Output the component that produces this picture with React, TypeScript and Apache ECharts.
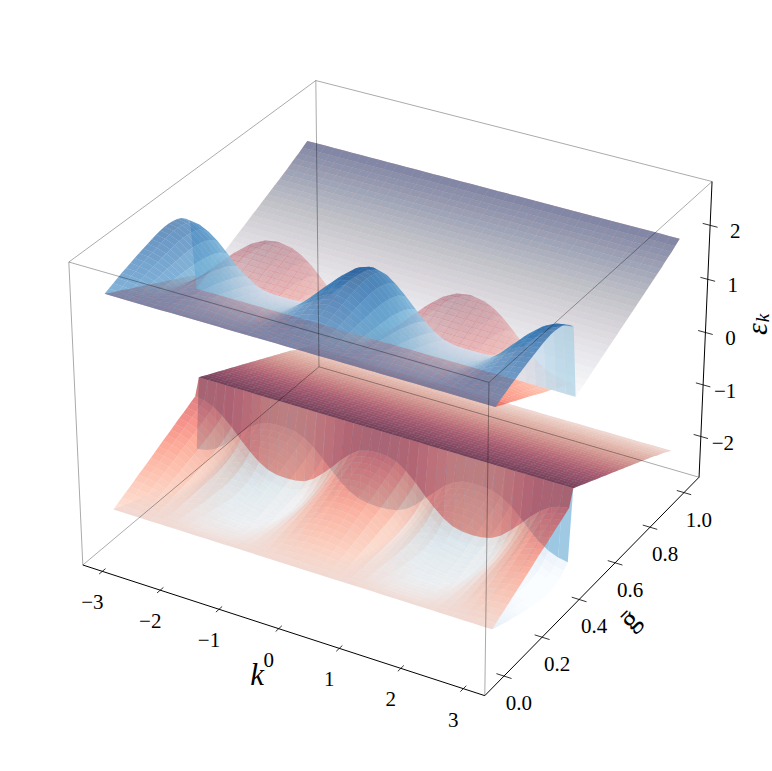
import React, { useEffect, useRef } from "react";
import * as echarts from "echarts";

// momentum samples along the k axis
const kSamples = [
  -3.142, -2.985, -2.827, -2.670, -2.513, -2.356, -2.199, -2.042, -1.885, -1.728, -1.571,
  -1.414, -1.257, -1.100, -0.942, -0.785, -0.628, -0.471, -0.314, -0.157, 0,
  0.157, 0.314, 0.471, 0.628, 0.785, 0.942, 1.100, 1.257, 1.414, 1.571,
  1.728, 1.885, 2.042, 2.199, 2.356, 2.513, 2.670, 2.827, 2.985, 3.142,
];
// coupling samples along the g axis
const gSamples = [
  0, 0.02, 0.04, 0.06, 0.08, 0.1, 0.12, 0.14, 0.16, 0.18, 0.2,
  0.22, 0.24, 0.26, 0.28, 0.3, 0.32, 0.34, 0.36, 0.38, 0.4,
  0.42, 0.44, 0.46, 0.48, 0.5, 0.52, 0.54, 0.56, 0.58, 0.6,
  0.62, 0.64, 0.66, 0.68, 0.7, 0.72, 0.74, 0.76, 0.78, 0.8,
  0.82, 0.84, 0.86, 0.88, 0.9, 0.92, 0.94, 0.96, 0.985,
];
// |energy| read along a band crest and along a band trough, for each g
const crestEnergy = [
  2.0, 2.035, 2.07, 2.105, 2.14, 2.17, 2.2, 2.23, 2.26, 2.285, 2.31,
  2.335, 2.36, 2.38, 2.39, 2.39, 2.38, 2.36, 2.32, 2.25, 2.16,
  0.84, 0.88, 0.92, 0.96, 1.0, 1.04, 1.08, 1.12, 1.16, 1.2,
  1.24, 1.28, 1.32, 1.36, 1.4, 1.44, 1.48, 1.52, 1.56, 1.6,
  1.64, 1.68, 1.72, 1.76, 1.81, 1.85, 1.89, 1.94, 2.0,
];
const troughEnergy = [
  2.0, 1.955, 1.91, 1.87, 1.83, 1.785, 1.74, 1.7, 1.66, 1.615, 1.57,
  1.525, 1.48, 1.44, 1.4, 1.355, 1.31, 1.27, 1.23, 1.185, 1.14,
  0.84, 0.88, 0.92, 0.96, 1.0, 1.04, 1.08, 1.12, 1.16, 1.2,
  1.24, 1.28, 1.32, 1.36, 1.4, 1.44, 1.48, 1.52, 1.56, 1.6,
  1.64, 1.68, 1.72, 1.76, 1.81, 1.85, 1.89, 1.94, 2.0,
];
// position between trough and crest for each k, upper pair of bands
const upperBlueWave = [
  1.0, 0.97, 0.89, 0.76, 0.59, 0.41, 0.27, 0.16, 0.1, 0.08, 0.08,
  0.08, 0.09, 0.13, 0.22, 0.36, 0.53, 0.71, 0.87, 1.0, 1.05,
  1.0, 0.87, 0.71, 0.53, 0.36, 0.22, 0.13, 0.09, 0.08, 0.08,
  0.08, 0.1, 0.16, 0.27, 0.41, 0.59, 0.76, 0.89, 0.97, 1.0,
];
const upperRedWave = [
  0.0, 0.02, 0.07, 0.15, 0.28, 0.45, 0.63, 0.8, 0.93, 1.01, 1.04,
  1.01, 0.93, 0.8, 0.63, 0.45, 0.28, 0.16, 0.09, 0.05, 0.03,
  0.05, 0.09, 0.16, 0.28, 0.45, 0.63, 0.8, 0.93, 1.01, 1.04,
  1.01, 0.93, 0.8, 0.63, 0.45, 0.28, 0.15, 0.07, 0.02, 0.0,
];
// the same, lower pair of bands
const lowerBlueWave = [
  1.0, 0.97, 0.9, 0.78, 0.62, 0.44, 0.28, 0.17, 0.1, 0.08, 0.08,
  0.1, 0.17, 0.29, 0.46, 0.63, 0.8, 0.93, 1.01, 1.04, 1.05,
  1.04, 1.01, 0.93, 0.8, 0.63, 0.46, 0.29, 0.17, 0.1, 0.08,
  0.08, 0.1, 0.17, 0.28, 0.44, 0.62, 0.78, 0.9, 0.97, 1.0,
];
const lowerRedWave = [
  0.0, 0.03, 0.1, 0.22, 0.38, 0.57, 0.74, 0.89, 0.99, 1.03, 1.04,
  1.03, 0.99, 0.89, 0.74, 0.57, 0.38, 0.22, 0.1, 0.05, 0.03,
  0.05, 0.1, 0.22, 0.38, 0.57, 0.74, 0.89, 0.99, 1.03, 1.04,
  1.03, 0.99, 0.89, 0.74, 0.57, 0.38, 0.22, 0.1, 0.03, 0.0,
];
const kTicks = [-3, -2, -1, 0, 1, 2, 3];
const gTicks = [0, 0.2, 0.4, 0.6, 0.8, 1.0];
const eTicks = [-2, -1, 0, 1, 2];

const bluesRamp = [
  [247, 251, 255], [222, 235, 247], [198, 219, 239], [158, 202, 225], [107, 174, 214],
  [66, 146, 198], [33, 113, 181], [8, 81, 156], [8, 48, 107],
];
const redsRamp = [
  [255, 245, 240], [254, 224, 210], [252, 187, 161], [252, 146, 114], [251, 106, 74],
  [239, 59, 44], [203, 24, 29], [165, 15, 21], [103, 0, 13],
];

const K_LIM = 3.34;
const G_CENTER = 0.496;
const G_HALF = 0.5945;
const E_LIM = 2.8;
const BOX_XY = 0.5715;
const BOX_Z = 0.4286;
const SCALE = 4030;
const CX = 396.4;
const CY = 373.9;
const UPPER_NORM = [0.85, 2.55];
const LOWER_NORM = [-2.3, -0.78];
const SERIF = '"Liberation Serif", serif';

function project(k: number, g: number, e: number): [number, number, number] {
  const x = (k / K_LIM) * BOX_XY;
  const y = ((g - G_CENTER) / G_HALF) * BOX_XY;
  const z = (e / E_LIM) * BOX_Z;
  const xv = 0.866025 * x + 0.5 * y;
  const yv = -0.25 * x + 0.433013 * y + 0.866025 * z;
  const d = 10 - (0.433013 * x - 0.75 * y + 0.5 * z);
  return [CX + (SCALE * xv) / d, CY - (SCALE * yv) / d, d];
}

function rampColor(ramp: number[][], t: number) {
  const c = Math.min(1, Math.max(0, t)) * (ramp.length - 1);
  const i = Math.min(ramp.length - 2, Math.floor(c));
  const f = c - i;
  const mix = (a: number, b: number) => Math.round(a + (b - a) * f);
  return `rgb(${mix(ramp[i][0], ramp[i + 1][0])},${mix(ramp[i][1], ramp[i + 1][1])},${mix(ramp[i][2], ramp[i + 1][2])})`;
}

function sheetSeries(wave: number[], ramp: number[][], sign: number, opacity: number) {
  const value = (i: number, j: number) =>
    sign * (troughEnergy[j] + (crestEnergy[j] - troughEnergy[j]) * wave[i]);
  const norm = sign > 0 ? UPPER_NORM : LOWER_NORM;
  const cells: any[] = [];
  for (let i = 0; i < kSamples.length - 1; i++) {
    for (let j = 0; j < gSamples.length - 1; j++) {
      const corners = [
        [i, j], [i + 1, j], [i + 1, j + 1], [i, j + 1],
      ].map(([a, b]) => project(kSamples[a], gSamples[b], value(a, b)));
      const mean =
        (value(i, j) + value(i + 1, j) + value(i + 1, j + 1) + value(i, j + 1)) / 4;
      cells.push({
        pts: corners.map((c) => [c[0], c[1]]),
        depth: corners.reduce((s, c) => s + c[2], 0) / 4,
        fill: rampColor(ramp, (mean - norm[0]) / (norm[1] - norm[0])),
      });
    }
  }
  cells.sort((a, b) => b.depth - a.depth);
  return {
    type: "custom",
    coordinateSystem: "none",
    silent: true,
    progressive: 0,
    clip: false,
    data: cells.map((_, idx) => [idx]),
    renderItem: (params: any) => {
      const cell = cells[params.dataIndex];
      return {
        type: "polygon",
        shape: { points: cell.pts },
        style: { fill: cell.fill, opacity },
      };
    },
  };
}

function line(a: number[], b: number[], stroke: string, width: number) {
  return {
    type: "line",
    z: 100,
    silent: true,
    shape: { x1: a[0], y1: a[1], x2: b[0], y2: b[1] },
    style: { stroke, lineWidth: width },
  };
}

function label(text: string, x: number, y: number, fontSize: number, extra: any = {}, rotation = 0) {
  return {
    type: "text",
    z: 101,
    silent: true,
    x,
    y,
    rotation,
    style: {
      text,
      x: 0,
      y: 0,
      align: "center",
      verticalAlign: "middle",
      fontFamily: SERIF,
      fontSize,
      fill: "#000",
      ...extra,
    },
  };
}

function buildGraphics() {
  const gLo = G_CENTER - G_HALF;
  const gHi = G_CENTER + G_HALF;
  const p = (k: number, g: number, e: number) => project(k, g, e);
  const LB = p(-K_LIM, gLo, -E_LIM);
  const BF = p(K_LIM, gLo, -E_LIM);
  const RB = p(K_LIM, gHi, -E_LIM);
  const BB = p(-K_LIM, gHi, -E_LIM);
  const TL = p(-K_LIM, gLo, E_LIM);
  const TF = p(K_LIM, gLo, E_LIM);
  const TR = p(K_LIM, gHi, E_LIM);
  const TB = p(-K_LIM, gHi, E_LIM);
  const grey = "rgba(0,0,0,0.42)";
  const out: any[] = [
    line(TL, TB, grey, 0.8), line(TB, TR, grey, 0.8), line(TR, TF, grey, 0.8), line(TF, TL, grey, 0.8),
    line(TL, LB, grey, 0.8), line(TB, BB, grey, 0.8), line(TF, BF, grey, 0.8),
    line(LB, BB, grey, 0.8), line(BB, RB, grey, 0.8),
    line(LB, BF, "#000", 1), line(BF, RB, "#000", 1), line(RB, TR, "#000", 1),
  ];
  const gTickSpan = 0.03;
  const kTickSpan = 0.12;
  kTicks.forEach((k) => {
    const a = p(k, gLo - gTickSpan / 2, -E_LIM);
    const b = p(k, gLo + gTickSpan / 2, -E_LIM);
    out.push(line(a, b, "#000", 0.8));
    const m = p(k, gLo, -E_LIM);
    out.push(label(k < 0 ? `\u2212${-k}` : `${k}`, m[0] - 10, m[1] + 31, 21));
  });
  gTicks.forEach((g) => {
    const a = p(K_LIM - kTickSpan, g, -E_LIM);
    const b = p(K_LIM + kTickSpan, g, -E_LIM);
    out.push(line(a, b, "#000", 0.8));
    const m = p(K_LIM, g, -E_LIM);
    out.push(label(g.toFixed(1), m[0] + 15, m[1] + 27, 21));
  });
  eTicks.forEach((e) => {
    const a = p(K_LIM - kTickSpan, gHi, e);
    const b = p(K_LIM + kTickSpan, gHi, e);
    out.push(line(a, b, "#000", 0.8));
    const m = p(K_LIM, gHi, e);
    out.push(label(e < 0 ? `\u2212${-e}` : `${e}`, m[0] + (e < 0 ? 22 : 25), m[1] + 6, 21));
  });
  out.push(label("k", 257, 674, 31, { fontStyle: "italic" }));
  out.push(label("\u1E21", 629, 619, 30, {}, Math.PI / 4));
  out.push(label("\u03B5", 756, 329, 30, { fontStyle: "italic" }, Math.PI / 2));
  out.push(label("k", 762, 318, 19, { fontStyle: "italic" }, Math.PI / 2));
  return out;
}

export default function App() {
  const ref = useRef<HTMLDivElement>(null);
  useEffect(() => {
    document.body.style.margin = "0";
    const chart = echarts.init(ref.current!, null, { renderer: "svg" });
    chart.setOption({
      animation: false,
      backgroundColor: "#fff",
      graphic: { elements: buildGraphics() },
      series: [
        sheetSeries(lowerBlueWave, bluesRamp, -1, 0.6),
        sheetSeries(lowerRedWave, redsRamp, -1, 0.55),
        sheetSeries(upperRedWave, redsRamp, 1, 0.6),
        sheetSeries(upperBlueWave, bluesRamp, 1, 0.6),
      ],
    });
    return () => chart.dispose();
  }, []);
  return <div ref={ref} style={{ width: 772, height: 771 }} />;
}
